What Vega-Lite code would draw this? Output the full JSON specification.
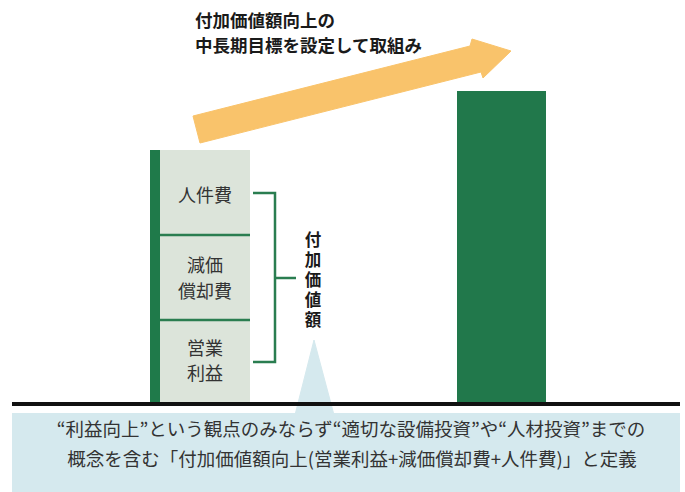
{
  "$schema": "https://vega.github.io/schema/vega-lite/v6.json",
  "width": 685,
  "height": 492,
  "autosize": {"type": "fit", "contains": "padding"},
  "padding": 0,
  "background": "#ffffff",
  "config": {"view": {"stroke": null}, "font": "Noto Sans CJK JP"},
  "datasets": {
    "box": [{"x": 12, "x2": 680, "y": -10, "y2": -95}],
    "pointer": [
      {"x": 314, "y": 63, "o": 1},
      {"x": 334, "y": -12, "o": 2},
      {"x": 295, "y": -12, "o": 3}
    ],
    "base": [{"x": 12, "x2": 680, "y": -1}],
    "leftbar": [{"x": 160, "x2": 250, "y": 0, "y2": 253}],
    "stripe": [{"x": 150, "x2": 160, "y": 0, "y2": 253}],
    "dividers": [{"x": 160, "x2": 250, "y": 83}, {"x": 160, "x2": 250, "y": 168}],
    "rightbar": [{"x": 457, "x2": 546, "y": 0, "y2": 312}],
    "arrow": [
      {"x": 193, "y": 287, "o": 1},
      {"x": 470, "y": 357, "o": 2},
      {"x": 472, "y": 364, "o": 3},
      {"x": 511, "y": 352, "o": 4},
      {"x": 483, "y": 325, "o": 5},
      {"x": 481, "y": 331, "o": 6},
      {"x": 200, "y": 260, "o": 7}
    ],
    "bracket": [
      {"g": "a", "x": 253, "y": 210, "o": 1},
      {"g": "a", "x": 275, "y": 210, "o": 2},
      {"g": "a", "x": 275, "y": 41, "o": 3},
      {"g": "a", "x": 253, "y": 41, "o": 4},
      {"g": "b", "x": 275, "y": 125, "o": 1},
      {"g": "b", "x": 296, "y": 125, "o": 2}
    ],
    "labels": [
      {"t": "人件費", "x": 205, "y": 206},
      {"t": "減価", "x": 205, "y": 136},
      {"t": "償却費", "x": 205, "y": 110},
      {"t": "営業", "x": 205, "y": 53},
      {"t": "利益", "x": 205, "y": 28}
    ],
    "vlabel": [
      {"t": "付", "x": 313, "y": 162},
      {"t": "加", "x": 313, "y": 142},
      {"t": "価", "x": 313, "y": 122},
      {"t": "値", "x": 313, "y": 102},
      {"t": "額", "x": 313, "y": 82}
    ],
    "title": [
      {"t": "付加価値額向上の", "x": 195, "y": 381},
      {"t": "中長期目標を設定して取組み", "x": 195, "y": 356}
    ],
    "note": [
      {"t": "“利益向上”という観点のみならず“適切な設備投資”や“人材投資”までの", "x": 351, "y": -27},
      {"t": "概念を含む「付加価値額向上(営業利益+減価償却費+人件費)」と定義", "x": 352, "y": -57}
    ]
  },
  "encoding": {
    "x": {"field": "x", "type": "quantitative", "scale": {"domain": [0, 685], "nice": false, "zero": false}, "axis": null},
    "y": {"field": "y", "type": "quantitative", "scale": {"domain": [-89, 403], "nice": false, "zero": false}, "axis": null}
  },
  "layer": [
    {"data": {"name": "box"}, "mark": {"type": "rect", "fill": "#d5e9ee", "clip": true}, "encoding": {"x2": {"field": "x2"}, "y2": {"field": "y2"}}},
    {"data": {"name": "pointer"}, "mark": {"type": "line", "interpolate": "linear-closed", "fill": "#d5e9ee", "stroke": "#d5e9ee", "strokeWidth": 1}, "encoding": {"order": {"field": "o"}}},
    {"data": {"name": "leftbar"}, "mark": {"type": "rect", "fill": "#dce4da"}, "encoding": {"x2": {"field": "x2"}, "y2": {"field": "y2"}}},
    {"data": {"name": "stripe"}, "mark": {"type": "rect", "fill": "#1f7a4a"}, "encoding": {"x2": {"field": "x2"}, "y2": {"field": "y2"}}},
    {"data": {"name": "dividers"}, "mark": {"type": "rule", "stroke": "#2a7d50", "strokeWidth": 2.5}, "encoding": {"x2": {"field": "x2"}}},
    {"data": {"name": "rightbar"}, "mark": {"type": "rect", "fill": "#21784b"}, "encoding": {"x2": {"field": "x2"}, "y2": {"field": "y2"}}},
    {"data": {"name": "base"}, "mark": {"type": "rule", "stroke": "#111111", "strokeWidth": 4}, "encoding": {"x2": {"field": "x2"}}},
    {"data": {"name": "arrow"}, "mark": {"type": "line", "interpolate": "linear-closed", "fill": "#f9c36b", "stroke": "#f9c36b", "strokeWidth": 1}, "encoding": {"order": {"field": "o"}}},
    {"data": {"name": "bracket"}, "mark": {"type": "line", "stroke": "#2a7d50", "strokeWidth": 2.5, "strokeJoin": "miter"}, "encoding": {"order": {"field": "o"}, "detail": {"field": "g"}}},
    {"data": {"name": "labels"}, "mark": {"type": "text", "fontSize": 18, "color": "#333333", "align": "center", "baseline": "middle"}, "encoding": {"text": {"field": "t"}}},
    {"data": {"name": "vlabel"}, "mark": {"type": "text", "fontSize": 16.5, "fontWeight": "bold", "color": "#1a1a1a", "align": "center", "baseline": "middle"}, "encoding": {"text": {"field": "t"}}},
    {"data": {"name": "title"}, "mark": {"type": "text", "fontSize": 17.5, "fontWeight": "bold", "color": "#1a1a1a", "align": "left", "baseline": "middle"}, "encoding": {"text": {"field": "t"}}},
    {"data": {"name": "note"}, "mark": {"type": "text", "fontSize": 18.5, "color": "#333333", "align": "center", "baseline": "middle"}, "encoding": {"text": {"field": "t"}}}
  ]
}
